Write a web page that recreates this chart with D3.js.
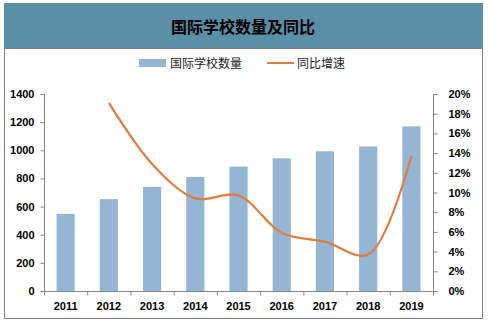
<!DOCTYPE html>
<html>
<head>
<meta charset="utf-8">
<script src="https://cdn.jsdelivr.net/npm/d3@7"></script>
<style>
  html, body { margin: 0; padding: 0; background: #fff; }
  svg { display: block; }
</style>
</head>
<body>
<svg id="chart" width="488" height="323"></svg>
<script>
// Chart data
const years = ["2011", "2012", "2013", "2014", "2015", "2016", "2017", "2018", "2019"];
const schoolCounts = [548, 653, 740, 810, 884, 943, 993, 1027, 1170];
const growthYears = ["2012", "2013", "2014", "2015", "2016", "2017", "2018", "2019"];
const growthRates = [19.1, 12.9, 9.4, 9.7, 5.9, 5.0, 3.7, 13.7];
const leftTicks = [0, 200, 400, 600, 800, 1000, 1200, 1400];
const rightTicks = [0, 2, 4, 6, 8, 10, 12, 14, 16, 18, 20];
const titleText = "国际学校数量及同比";
const barLabel = "国际学校数量";
const lineLabel = "同比增速";

const svg = d3.select("#chart");
const font = "'Liberation Sans', Arial, sans-serif";
const cjk = "'Noto Sans CJK SC', sans-serif";
const axisColor = "#868686";

// Frame and title band
svg.append("rect").attr("x", 4.5).attr("y", 3.5).attr("width", 478).attr("height", 315)
  .attr("fill", "#fff").attr("stroke", "#7f7f7f").attr("stroke-width", 1);
svg.append("rect").attr("x", 4).attr("y", 3).attr("width", 479).attr("height", 45)
  .attr("fill", "#5B8FA7");
svg.append("line").attr("x1", 4).attr("x2", 483).attr("y1", 48.5).attr("y2", 48.5)
  .attr("stroke", "#7f7f7f");
svg.append("text").attr("x", 243).attr("y", 33).attr("text-anchor", "middle")
  .attr("font-family", cjk).attr("font-weight", "bold").attr("font-size", 16)
  .attr("fill", "#000").text(titleText);

// Scales
const plot = { left: 44, right: 433, top: 94, bottom: 291 };
const x = d3.scaleBand().domain(years).range([plot.left, plot.right]).paddingInner(0.58).paddingOuter(0.29);
const xMid = d => x(d) + x.bandwidth() / 2;
const yL = d3.scaleLinear().domain([0, 1400]).range([plot.bottom, plot.top]);
const yR = d3.scaleLinear().domain([0, 20]).range([plot.bottom, plot.top]);

// Bars
svg.append("g").selectAll("rect").data(years).join("rect")
  .attr("x", d => x(d)).attr("width", x.bandwidth())
  .attr("y", (d, i) => yL(schoolCounts[i]))
  .attr("height", (d, i) => plot.bottom - yL(schoolCounts[i]))
  .attr("fill", "#94B5D3");

// Growth line
const linePts = growthYears.map((yr, i) => [xMid(yr), yR(growthRates[i])]);
svg.append("path").datum(linePts)
  .attr("d", d3.line().curve(d3.curveCatmullRom.alpha(0.5)))
  .attr("fill", "none").attr("stroke", "#E57A3C").attr("stroke-width", 2.2);

// Left axis
const gL = svg.append("g").attr("transform", `translate(${plot.left + 0.5},0)`)
  .call(d3.axisLeft(yL).tickValues(leftTicks).tickSize(4).tickPadding(6).tickFormat(d3.format("d")));
// Right axis
const gR = svg.append("g").attr("transform", `translate(${plot.right + 0.5},0)`)
  .call(d3.axisRight(yR).tickValues(rightTicks).tickSize(4).tickPadding(11).tickFormat(d => d + "%"));
// Bottom axis with ticks between categories
const gB = svg.append("g").attr("transform", `translate(0,${plot.bottom + 0.5})`)
  .call(d3.axisBottom(x).tickSize(0).tickPadding(11));
const step = x.step();
gB.selectAll(".sep").data(d3.range(years.length + 1)).join("line")
  .attr("class", "sep")
  .attr("x1", i => plot.left + 0.5 + i * step * (plot.right - plot.left) / (step * years.length))
  .attr("x2", i => plot.left + 0.5 + i * (plot.right - plot.left) / years.length)
  .attr("y1", 0).attr("y2", 4).attr("stroke", axisColor);

[gL, gR, gB].forEach(g => {
  g.select(".domain").attr("stroke", axisColor);
  g.selectAll(".tick line").attr("stroke", axisColor);
  g.selectAll("text").attr("font-family", font).attr("font-weight", "bold")
    .attr("font-size", 11).attr("fill", "#000");
});
gL.select(".domain").attr("d", `M0,${plot.top}V${plot.bottom}`);
gR.select(".domain").attr("d", `M0,${plot.top}V${plot.bottom}`);
gB.select(".domain").attr("d", `M${plot.left},0H${plot.right}`);

// Legend
const lg = svg.append("g");
lg.append("rect").attr("x", 139).attr("y", 59).attr("width", 27).attr("height", 8).attr("fill", "#94B5D3");
lg.append("text").attr("x", 170).attr("y", 67.5).attr("font-family", cjk).attr("font-size", 12)
  .attr("fill", "#222").text(barLabel);
lg.append("line").attr("x1", 267).attr("x2", 294).attr("y1", 63).attr("y2", 63)
  .attr("stroke", "#E57A3C").attr("stroke-width", 2);
lg.append("text").attr("x", 297).attr("y", 67.5).attr("font-family", cjk).attr("font-size", 12)
  .attr("fill", "#222").text(lineLabel);
</script>
</body>
</html>
